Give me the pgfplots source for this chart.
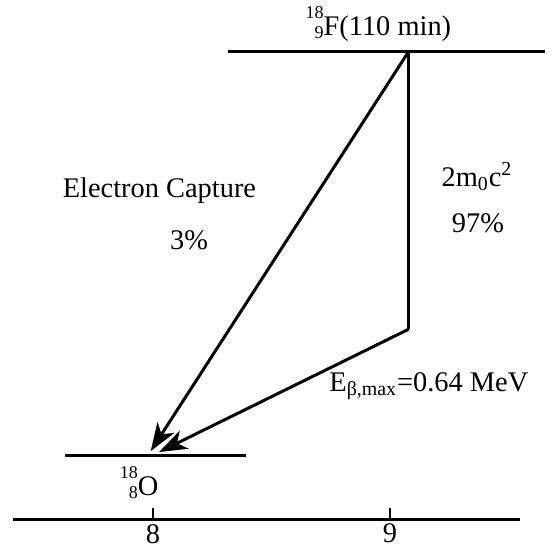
\documentclass[border=0pt]{standalone}
\usepackage{fontspec}
\setmainfont{Liberation Serif}
\usepackage{pgfplots}
\pgfplotsset{compat=1.18}
\usetikzlibrary{arrows.meta}

% nuclide symbol with mass number over atomic number, right aligned
\newcommand\nuc[3]{{\fontsize{9}{10}\selectfont\setbox0\hbox{#1}\setbox2\hbox{#2}%
  \dimen0=\ifdim\wd0>\wd2 \wd0\else\wd2\fi
  \makebox[\dimen0][r]{\raisebox{8.5pt}{#1}}\llap{\raisebox{-1.5pt}{#2}}}#3}

\tikzset{lbl/.style={anchor=base, font=\fontsize{14.2}{17}\selectfont}}

\begin{document}
\begin{tikzpicture}[font=\fontsize{14.2}{17}\selectfont]
\begin{axis}[
  scale only axis,
  width=253.5pt, height=234pt,
  xmin=7.409, xmax=9.549,
  ymin=0, ymax=468,
  clip=false,
  axis x line*=bottom,
  axis y line=none,
  axis line style={line width=1.5pt, -},
  xtick={8,9},
  major tick length=0pt,
  /pgf/number format/assume math mode=true,
  xticklabel style={font=\fontsize{14.2}{17}\selectfont, yshift=1pt},
]
% frame of the whole drawing
\path (axis cs:7.354,-28) rectangle (axis cs:9.692,519);

% upward tick marks on the Z axis
\addplot[black, line width=1.4pt] coordinates {(8,0) (8,11)};
\addplot[black, line width=1.4pt] coordinates {(9,0) (9,11)};

% energy levels
\addplot[black, line width=1.5pt] coordinates {(8.316,468) (9.654,468)};
\addplot[black, line width=1.5pt] coordinates {(7.628,64) (8.392,64)};

% beta+ branch: 2m0c2 drop then beta transition
\addplot[black, line width=1.5pt, -{Stealth[length=14pt,width=10pt,inset=4pt]}]
  coordinates {(9.080,190) (8.025,67)};
\addplot[black, line width=1.5pt] coordinates {(9.080,468) (9.080,190)};

% electron capture branch
\addplot[black, line width=1.5pt, -{Stealth[length=14pt,width=10pt,inset=4pt]}]
  coordinates {(9.080,468) (7.990,68)};

% labels
\node[lbl] at (axis cs:8.951,483) {\nuc{18}{9}{F}(110 min)};
\node[lbl] at (axis cs:7.941,24) {\nuc{18}{8}{O}};
\node[lbl] at (axis cs:8.027,322) {Electron Capture};
\node[lbl] at (axis cs:8.152,270) {3\%};
\node[lbl] at (axis cs:9.367,333) {2m\textsubscript{0}c\textsuperscript{2}};
\node[lbl] at (axis cs:9.371,287) {97\%};
\node[lbl] at (axis cs:9.164,128) {E\textsubscript{β,max}=0.64 MeV};
\end{axis}
\end{tikzpicture}
\end{document}
